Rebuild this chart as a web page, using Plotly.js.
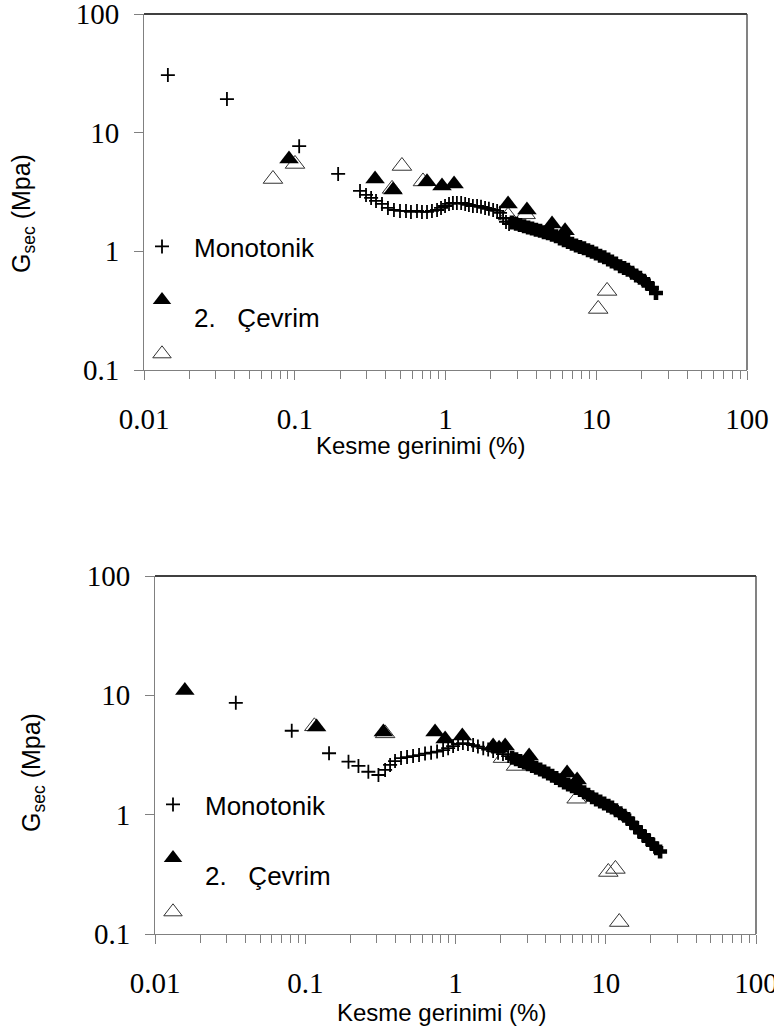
<!DOCTYPE html>
<html>
<head>
<meta charset="utf-8">
<script src="https://cdn.plot.ly/plotly-3.0.1.min.js"></script>
<style>html,body{margin:0;padding:0;background:#fff;}</style>
</head>
<body>
<div id="chart" style="width:774px;height:1027px;"></div>
<script>
// ---------- tick labels & titles ----------
const xTickVals = [0.01, 0.1, 1, 10, 100];
const xTickText = ['0.01', '0.1', '1', '10', '100'];
const yTickVals = [0.1, 1, 10, 100];
const yTickText = ['0.1', '1', '10', '100'];
const xTitleText = 'Kesme gerinimi (%)';
const yTitleText = 'G<sub>sec</sub> (Mpa)';
const nameMono = 'Monotonik';
const nameCycle = '<br>2.\u00a0\u00a0\u00a0Çevrim';
const nameOpen = '\u00a0';

// ---------- top chart ----------
const topMonoX = [0.0144, 0.0355, 0.107, 0.194, 0.271, 0.297, 0.321, 0.346, 0.379, 0.415, 0.455, 0.499, 0.547, 0.590, 0.647, 0.698, 0.754, 0.813, 0.879, 0.934, 0.993, 1.055, 1.12, 1.19, 1.27, 1.35, 1.43, 1.52, 1.62, 1.72, 1.83, 1.94, 2.07, 2.20, 2.30, 2.41, 2.52, 2.64];
const topMonoY = [30.6, 19.2, 7.7, 4.49, 3.23, 2.99, 2.82, 2.66, 2.51, 2.32, 2.23, 2.19, 2.19, 2.15, 2.19, 2.15, 2.15, 2.19, 2.23, 2.32, 2.41, 2.51, 2.56, 2.56, 2.56, 2.51, 2.46, 2.41, 2.41, 2.37, 2.32, 2.28, 2.23, 2.19, 2.11, 1.91, 1.77, 1.70];
const topBandX = [2.76, 2.94, 3.12, 3.32, 3.53, 3.75, 3.98, 4.24, 4.50, 4.79, 5.09, 5.41, 5.75, 6.11, 6.50, 6.90, 7.34, 7.80, 8.29, 8.82, 9.37, 9.96, 10.6, 11.3, 12.0, 12.7, 13.5, 14.4, 15.3, 16.2, 17.3, 18.4, 19.5, 20.7, 22.0, 23.4, 24.9];
const topBandY = [1.75, 1.71, 1.67, 1.63, 1.59, 1.56, 1.52, 1.49, 1.45, 1.42, 1.38, 1.34, 1.28, 1.24, 1.20, 1.16, 1.12, 1.09, 1.06, 1.02, 0.99, 0.96, 0.92, 0.89, 0.855, 0.82, 0.79, 0.75, 0.725, 0.70, 0.66, 0.625, 0.60, 0.565, 0.53, 0.49, 0.446];
const topFilledX = [0.0916, 0.341, 0.449, 0.754, 0.948, 1.14, 2.60, 3.47, 5.09, 6.21];
const topFilledY = [6.0, 4.07, 3.29, 3.85, 3.56, 3.70, 2.51, 2.23, 1.70, 1.49];
const topOpenX = [0.0717, 0.1004, 0.442, 0.514, 0.709, 2.6, 3.4, 11.8, 10.3];
const topOpenY = [4.07, 5.45, 3.36, 5.24, 3.88, 2.0, 2.05, 0.464, 0.327];

// ---------- bottom chart ----------
const botMonoX = [0.0345, 0.0813, 0.144, 0.194, 0.226, 0.263, 0.307, 0.340, 0.367, 0.396, 0.434, 0.476, 0.522, 0.572, 0.627, 0.688, 0.754, 0.827, 0.893, 0.964, 1.04, 1.12, 1.21, 1.31, 1.41, 1.53, 1.65, 1.78, 1.92, 2.07, 2.24];
const botMonoY = [8.65, 5.05, 3.27, 2.78, 2.56, 2.29, 2.15, 2.37, 2.61, 2.81, 2.98, 3.04, 3.10, 3.16, 3.25, 3.31, 3.38, 3.48, 3.61, 3.76, 3.91, 3.98, 3.91, 3.83, 3.72, 3.61, 3.51, 3.41, 3.31, 3.22, 3.10];
const botBandX = [2.38, 2.53, 2.69, 2.86, 3.04, 3.24, 3.44, 3.66, 3.89, 4.14, 4.40, 4.68, 4.97, 5.28, 5.62, 5.97, 6.35, 6.75, 7.18, 7.63, 8.12, 8.63, 9.18, 9.76, 10.4, 11.0, 11.7, 12.5, 13.3, 14.1, 15.0, 15.9, 16.9, 18.0, 19.2, 20.4, 21.7, 23.0];
const botBandY = [3.00, 2.91, 2.82, 2.73, 2.65, 2.56, 2.47, 2.39, 2.30, 2.21, 2.12, 2.03, 1.94, 1.86, 1.79, 1.73, 1.67, 1.61, 1.54, 1.47, 1.40, 1.34, 1.29, 1.24, 1.19, 1.15, 1.09, 1.03, 0.977, 0.92, 0.847, 0.78, 0.716, 0.663, 0.614, 0.569, 0.523, 0.491];
const botFilledX = [0.0158, 0.119, 0.331, 0.731, 0.853, 1.11, 1.78, 1.95, 2.14, 3.09, 5.53, 6.45];
const botFilledY = [11.0, 5.42, 4.92, 4.92, 4.30, 4.56, 3.76, 3.60, 3.76, 3.10, 2.23, 1.95];
const botOpenX = [0.115, 0.34, 2.07, 2.53, 6.4, 10.4, 11.6, 12.3];
const botOpenY = [5.5, 4.8, 2.98, 2.56, 1.36, 0.331, 0.351, 0.126];

// ---------- styles ----------
const crossMarker = {symbol: 'cross-thin', size: 10, color: '#000', line: {color: '#000', width: 1.8}};
const bandMarker = {symbol: 'cross-thin', size: 10, color: '#000', line: {color: '#000', width: 4.6}};
const filledMarker = {symbol: 'triangle-up', size: 17, color: '#000', line: {width: 0}};
const openMarker = {symbol: 'triangle-up-open', size: 17, color: '#333', line: {color: '#333', width: 1}};

function panel(xa, ya, leg, mx, my, bx, by, fx, fy, ox, oy) {
  return [
    {type: 'scatter', mode: 'markers', x: ox, y: oy, xaxis: xa, yaxis: ya, legend: leg,
     name: nameOpen, legendrank: 3, marker: openMarker, hoverinfo: 'x+y'},
    {type: 'scatter', mode: 'markers', x: fx, y: fy, xaxis: xa, yaxis: ya, legend: leg,
     name: nameCycle, legendrank: 2, marker: filledMarker, hoverinfo: 'x+y'},
    {type: 'scatter', mode: 'markers', x: bx, y: by, xaxis: xa, yaxis: ya, legend: leg,
     name: nameMono, showlegend: false, marker: bandMarker, hoverinfo: 'x+y'},
    {type: 'scatter', mode: 'markers', x: mx, y: my, xaxis: xa, yaxis: ya, legend: leg,
     name: nameMono, legendrank: 1, marker: crossMarker, hoverinfo: 'x+y'}
  ];
}

const data = [].concat(
  panel('x', 'y', 'legend', topMonoX, topMonoY, topBandX, topBandY, topFilledX, topFilledY, topOpenX, topOpenY),
  panel('x2', 'y2', 'legend2', botMonoX, botMonoY, botBandX, botBandY, botFilledX, botFilledY, botOpenX, botOpenY)
);

const W = 774, H = 1027;
const serif = '"Liberation Serif", "Times New Roman", Times, serif';
const sans = '"Liberation Sans", Arial, sans-serif';
const axisGray = '#808080';

function xAxis(domain, anchor) {
  return {
    type: 'log', range: [-2, 2], domain: domain, anchor: anchor,
    tickmode: 'array', tickvals: xTickVals, ticktext: xTickText,
    ticks: 'outside', ticklen: 9, tickcolor: axisGray, tickwidth: 1,
    minor: {tickmode: 'linear', tick0: 0, dtick: 'D1', ticks: 'outside', ticklen: 8, tickcolor: axisGray, tickwidth: 1, showgrid: false},
    showline: true, linecolor: axisGray, linewidth: 1, mirror: false,
    showgrid: false, zeroline: false, automargin: false,
    ticklabeloverflow: 'allow',
    tickfont: {family: serif, size: 29, color: '#000'},
    ticklabelstandoff: 14
  };
}
function yAxis(domain, anchor) {
  return {
    type: 'log', range: [-1, 2], domain: domain, anchor: anchor,
    tickmode: 'array', tickvals: yTickVals, ticktext: yTickText,
    ticks: 'outside', ticklen: 9, tickcolor: axisGray, tickwidth: 1,
    showline: true, linecolor: axisGray, linewidth: 1, mirror: false,
    showgrid: false, zeroline: false, automargin: false,
    ticklabeloverflow: 'allow',
    tickfont: {family: serif, size: 29, color: '#000'},
    ticklabelstandoff: 9
  };
}

function frame(xr, yr) {
  return [
    {type: 'line', xref: xr + ' domain', yref: yr + ' domain', x0: 0, x1: 1, y0: 1, y1: 1,
     line: {color: '#000', width: 1.3}},
    {type: 'line', xref: xr + ' domain', yref: yr + ' domain', x0: 1, x1: 1, y0: 0, y1: 1,
     line: {color: '#404040', width: 1.3}}
  ];
}

function titles(xCenterPx, xMidPx, yCenterPx, yMidPx) {
  return [
    {xref: 'paper', yref: 'paper', x: xCenterPx / W, y: 1 - xMidPx / H,
     xanchor: 'center', yanchor: 'middle', showarrow: false, text: xTitleText,
     font: {family: sans, size: 24, color: '#000'}},
    {xref: 'paper', yref: 'paper', x: yCenterPx / W, y: 1 - yMidPx / H,
     xanchor: 'center', yanchor: 'middle', showarrow: false, text: yTitleText, textangle: -90,
     font: {family: sans, size: 25, color: '#000'}}
  ];
}

const legendBase = {
  xanchor: 'left', yanchor: 'top', bgcolor: 'rgba(0,0,0,0)', borderwidth: 0,
  font: {family: sans, size: 26, color: '#000'}, itemwidth: 54, traceorder: 'normal',
  tracegroupgap: 0, itemclick: false, itemdoubleclick: false
};

const layout = {
  width: W, height: H,
  margin: {l: 0, r: 0, t: 0, b: 0},
  paper_bgcolor: '#fff', plot_bgcolor: '#fff',
  showlegend: true,
  xaxis: xAxis([144 / W, 747 / W], 'y'),
  yaxis: yAxis([1 - 370 / H, 1 - 14 / H], 'x'),
  xaxis2: xAxis([155 / W, 756 / W], 'y2'),
  yaxis2: yAxis([1 - 934 / H, 1 - 576 / H], 'x2'),
  legend: Object.assign({}, legendBase, {x: 130 / W, y: 1 - 223 / H}),
  legend2: Object.assign({}, legendBase, {x: 141 / W, y: 1 - 781 / H}),
  shapes: frame('x', 'y').concat(frame('x2', 'y2')),
  annotations: titles(420, 445, 23, 214).concat(titles(441, 1012, 33, 773))
};

Plotly.newPlot('chart', data, layout, {displayModeBar: false, staticPlot: true});
</script>
</body>
</html>
